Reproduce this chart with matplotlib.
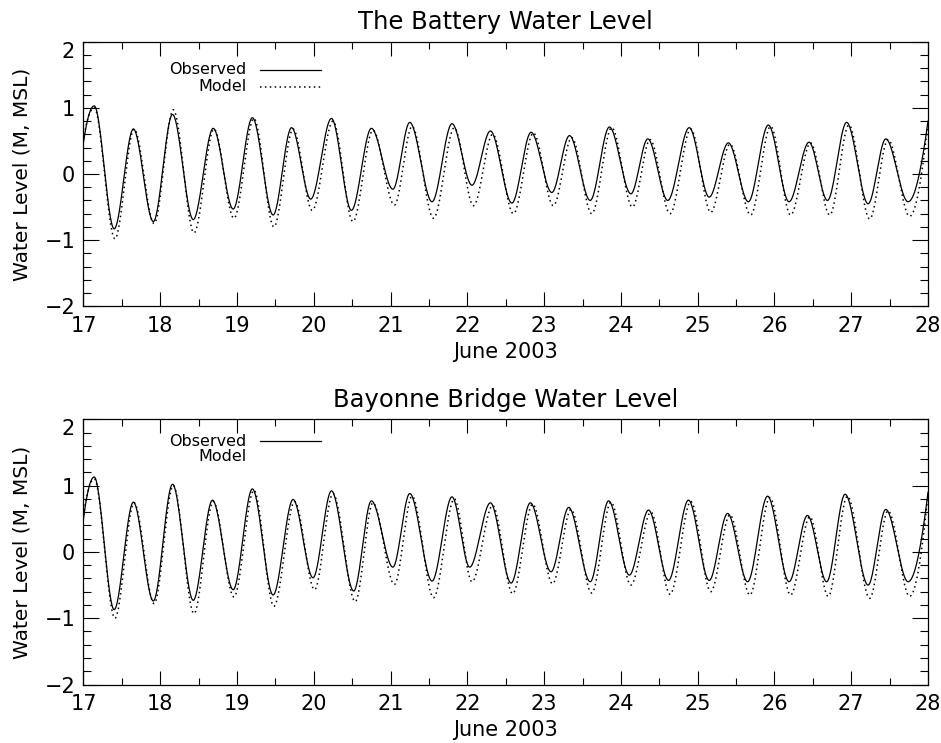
import numpy as np
import matplotlib
matplotlib.use("Agg")
import matplotlib.pyplot as plt
from matplotlib.ticker import MultipleLocator

# High / low water times (day of June 2003) and levels (m, MSL)
battery_obs_time = [17.00, 17.14, 17.40, 17.65, 17.91, 18.16, 18.43, 18.69, 18.95, 19.20,
                    19.47, 19.71, 19.96, 20.23, 20.49, 20.75, 21.03, 21.25, 21.54, 21.80,
                    22.06, 22.30, 22.58, 22.83, 23.10, 23.33, 23.60, 23.85, 24.13, 24.35,
                    24.61, 24.89, 25.15, 25.40, 25.66, 25.92, 26.19, 26.45, 26.69, 26.94,
                    27.22, 27.45, 27.74, 28.00]
battery_obs_level = [0.48, 1.03, -0.83, 0.68, -0.72, 0.90, -0.69, 0.69, -0.53, 0.85,
                     -0.62, 0.70, -0.38, 0.84, -0.55, 0.69, -0.23, 0.78, -0.42, 0.76,
                     -0.17, 0.65, -0.44, 0.63, -0.28, 0.58, -0.40, 0.71, -0.30, 0.53,
                     -0.40, 0.70, -0.35, 0.47, -0.42, 0.74, -0.42, 0.48, -0.40, 0.78,
                     -0.45, 0.53, -0.42, 0.80]
battery_mod_time = [17.00, 17.14, 17.41, 17.66, 17.92, 18.17, 18.44, 18.70, 18.96, 19.22,
                    19.48, 19.73, 19.98, 20.25, 20.51, 20.77, 21.05, 21.28, 21.56, 21.83,
                    22.08, 22.33, 22.60, 22.86, 23.12, 23.36, 23.62, 23.88, 24.15, 24.38,
                    24.64, 24.91, 25.17, 25.42, 25.69, 25.95, 26.21, 26.47, 26.72, 26.97,
                    27.24, 27.48, 27.76, 28.00]
battery_mod_level = [0.52, 1.00, -0.98, 0.68, -0.75, 0.97, -0.89, 0.68, -0.67, 0.84,
                     -0.80, 0.68, -0.55, 0.80, -0.72, 0.66, -0.47, 0.72, -0.67, 0.70,
                     -0.48, 0.60, -0.60, 0.62, -0.48, 0.55, -0.60, 0.70, -0.50, 0.52,
                     -0.60, 0.68, -0.58, 0.45, -0.62, 0.72, -0.62, 0.47, -0.62, 0.74,
                     -0.68, 0.52, -0.64, 0.78]

bayonne_obs_time = [17.00, 17.14, 17.40, 17.65, 17.91, 18.16, 18.43, 18.68, 18.95, 19.20,
                    19.47, 19.73, 19.99, 20.23, 20.52, 20.75, 21.03, 21.25, 21.54, 21.80,
                    22.03, 22.30, 22.57, 22.82, 23.09, 23.32, 23.60, 23.84, 24.11, 24.36,
                    24.62, 24.88, 25.15, 25.39, 25.65, 25.91, 26.19, 26.43, 26.68, 26.92,
                    27.22, 27.45, 27.74, 28.00]
bayonne_obs_level = [0.50, 1.13, -0.87, 0.75, -0.74, 1.02, -0.73, 0.78, -0.57, 0.95,
                     -0.65, 0.79, -0.39, 0.92, -0.59, 0.77, -0.23, 0.88, -0.44, 0.83,
                     -0.23, 0.74, -0.47, 0.74, -0.30, 0.67, -0.45, 0.77, -0.35, 0.63,
                     -0.43, 0.78, -0.43, 0.58, -0.45, 0.84, -0.45, 0.55, -0.45, 0.87,
                     -0.50, 0.64, -0.45, 0.90]
bayonne_mod_time = [17.00, 17.14, 17.41, 17.66, 17.92, 18.17, 18.44, 18.69, 18.96, 19.22,
                    19.48, 19.75, 20.01, 20.25, 20.54, 20.77, 21.05, 21.28, 21.56, 21.83,
                    22.06, 22.33, 22.59, 22.85, 23.11, 23.35, 23.62, 23.87, 24.13, 24.39,
                    24.64, 24.91, 25.17, 25.42, 25.68, 25.94, 26.21, 26.46, 26.70, 26.95,
                    27.24, 27.48, 27.76, 28.00]
bayonne_mod_level = [0.55, 1.10, -1.00, 0.74, -0.78, 1.00, -0.93, 0.76, -0.68, 0.93,
                     -0.82, 0.76, -0.57, 0.88, -0.75, 0.74, -0.49, 0.84, -0.69, 0.80,
                     -0.45, 0.70, -0.63, 0.72, -0.48, 0.64, -0.62, 0.75, -0.50, 0.60,
                     -0.64, 0.76, -0.60, 0.56, -0.65, 0.82, -0.65, 0.53, -0.67, 0.84,
                     -0.70, 0.62, -0.67, 0.88]

day_ticks = list(range(17, 29))
level_ticks = [-2, -1, 0, 1, 2]
titles = ["The Battery Water Level", "Bayonne Bridge Water Level"]


def tide_curve(t, h, n=4000):
    """Monotone cubic (PCHIP) tide curve through the high/low water points."""
    t = np.asarray(t, float)
    h = np.asarray(h, float)
    dt = np.diff(t)
    s = np.diff(h) / dt
    m = np.zeros_like(h)
    for k in range(1, len(h) - 1):
        if s[k - 1] * s[k] > 0:
            w1 = 2 * dt[k] + dt[k - 1]
            w2 = dt[k] + 2 * dt[k - 1]
            m[k] = (w1 + w2) / (w1 / s[k - 1] + w2 / s[k])

    def end_slope(h0, h1, s0, s1):
        d = ((2 * h0 + h1) * s0 - h0 * s1) / (h0 + h1)
        if np.sign(d) != np.sign(s0):
            return 0.0
        if np.sign(s0) != np.sign(s1) and abs(d) > abs(3 * s0):
            return 3 * s0
        return d

    m[0] = end_slope(dt[0], dt[1], s[0], s[1])
    m[-1] = end_slope(dt[-1], dt[-2], s[-1], s[-2])

    tt = np.linspace(t[0], t[-1], n)
    idx = np.clip(np.searchsorted(t, tt) - 1, 0, len(t) - 2)
    hk = dt[idx]
    u = (tt - t[idx]) / hk
    h00 = 2 * u**3 - 3 * u**2 + 1
    h10 = u**3 - 2 * u**2 + u
    h01 = -2 * u**3 + 3 * u**2
    h11 = u**3 - u**2
    yy = h00 * h[idx] + h10 * hk * m[idx] + h01 * h[idx + 1] + h11 * hk * m[idx + 1]
    return tt, yy


plt.rcParams["font.family"] = "DejaVu Sans"
fig = plt.figure(figsize=(9.41, 7.43), dpi=100)

axes_rects = [[0.0887, 0.5878, 0.8975, 0.3561],
              [0.0887, 0.0787, 0.8975, 0.3570]]
series = [
    (battery_obs_time, battery_obs_level, battery_mod_time, battery_mod_level),
    (bayonne_obs_time, bayonne_obs_level, bayonne_mod_time, bayonne_mod_level),
]
legend_y = [(0.893, 0.830), (0.918, 0.859)]
show_model_key = [True, False]

dotted = (0, (1.0, 2.2))

for i, ax_rect in enumerate(axes_rects):
    ax = fig.add_axes(ax_rect)
    ot, ol, mt, ml = series[i]
    x, y = tide_curve(ot, ol)
    ax.plot(x, y, color="black", lw=0.9, solid_joinstyle="round")
    x, y = tide_curve(mt, ml)
    ax.plot(x, y, color="black", lw=1.1, linestyle=dotted)

    ax.set_xlim(17, 28)
    ax.set_ylim(-2, 2)
    ax.set_xticks(day_ticks)
    ax.set_yticks(level_ticks)
    ax.xaxis.set_minor_locator(MultipleLocator(0.5))
    ax.yaxis.set_minor_locator(MultipleLocator(0.2))
    ax.tick_params(which="both", direction="in", top=True, right=True,
                   width=0.8, colors="black", labelsize=15)
    ax.tick_params(axis="x", which="major", length=10, pad=7)
    ax.tick_params(axis="x", which="minor", length=5)
    ax.tick_params(axis="y", which="major", length=11.5, pad=6)
    ax.tick_params(axis="y", which="minor", length=5.8)
    for sp in ax.spines.values():
        sp.set_linewidth(0.9)
        sp.set_color("black")
    for lab in ax.get_yticklabels():
        if lab.get_text() == "2":
            lab.set_verticalalignment("top")

    ax.set_title(titles[i], fontsize=17.5, pad=9)
    ax.set_xlabel("June 2003", fontsize=15, labelpad=4)
    ax.set_ylabel("Water Level (M, MSL)", fontsize=14.5, labelpad=9)

    # key
    yo, ym = legend_y[i]
    ax.text(0.1932, yo, "Observed", transform=ax.transAxes, ha="right",
            va="center", fontsize=11.5)
    ax.plot([0.209, 0.2808], [yo, yo], transform=ax.transAxes, color="black", lw=0.9)
    ax.text(0.1932, ym, "Model", transform=ax.transAxes, ha="right",
            va="center", fontsize=11.5)
    if show_model_key[i]:
        ax.plot([0.209, 0.2808], [ym, ym], transform=ax.transAxes, color="black",
                lw=1.1, linestyle=dotted)

fig.savefig("out.png", dpi=100, facecolor="white")
